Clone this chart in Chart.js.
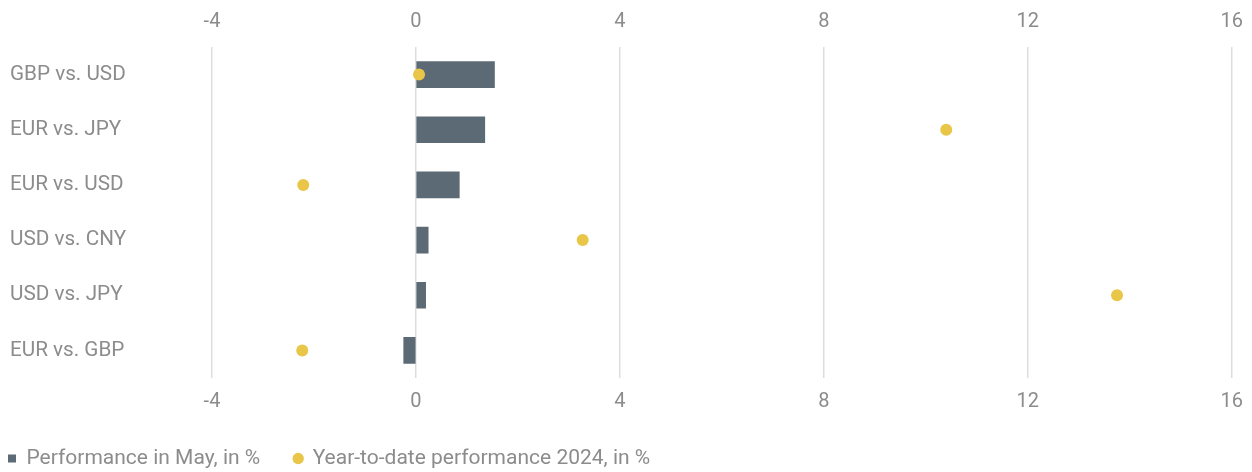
<!DOCTYPE html>
<html>
<head>
<meta charset="utf-8">
<title>Currency performance</title>
<script src="https://cdn.jsdelivr.net/npm/chart.js@4/dist/chart.umd.min.js"></script>
<style>
  html, body { margin: 0; padding: 0; background: #ffffff; }
  #wrap { width: 1252px; height: 472px; position: relative; }
</style>
</head>
<body>
<div id="wrap"><canvas id="chart"></canvas></div>
<script>
// Currency pairs, top to bottom
const categories = ['GBP vs. USD', 'EUR vs. JPY', 'EUR vs. USD', 'USD vs. CNY', 'USD vs. JPY', 'EUR vs. GBP'];
// Performance in May, in %
const mayPerformance = [1.54, 1.35, 0.85, 0.24, 0.19, -0.24];
// Year-to-date performance 2024, in %
const ytdPerformance = [0.06, 10.40, -2.21, 3.27, 13.75, -2.23];
// Value axis
const axisMin = -4;
const axisMax = 16;
const axisStep = 4;

const seriesNames = ['Performance in May, in %', 'Year-to-date performance 2024, in %'];

const BAR_COLOR = '#5b6a74';
const DOT_COLOR = '#e9c548';
const TEXT_COLOR = '#8c8c8c';
const GRID_COLOR = '#dddddd';
const FAMILY = 'Roboto, "Liberation Sans", sans-serif';
const TOP_TICK_FONT = { family: FAMILY, size: 20, lineHeight: 1.6 };
const BOTTOM_TICK_FONT = { family: FAMILY, size: 20, lineHeight: 1.5 };
const LABEL_FONT = { family: FAMILY, size: 20.7 };
const LEGEND_FONT = { family: FAMILY, size: 21 };

// Nudges the legend row so the first marker sits near the left edge
// while keeping wide spacing between the two entries.
const legendShift = {
  id: 'legendShift',
  afterLayout(chart) {
    if (chart.legend) {
      chart.legend.left -= 36;
      chart.legend.top += 7;
    }
  }
};

new Chart(document.getElementById('chart'), {
  type: 'bar',
  data: {
    labels: categories,
    datasets: [
      {
        type: 'line',
        label: seriesNames[1],
        data: ytdPerformance,
        showLine: false,
        pointRadius: 6,
        pointHoverRadius: 6,
        pointBackgroundColor: DOT_COLOR,
        pointBorderWidth: 0,
        borderColor: DOT_COLOR,
        backgroundColor: DOT_COLOR,
        pointStyle: 'circle',
        xAxisID: 'x',
        order: 0
      },
      {
        label: seriesNames[0],
        data: mayPerformance,
        backgroundColor: BAR_COLOR,
        borderWidth: 0,
        barThickness: 26,
        pointStyle: 'rect',
        xAxisID: 'x',
        order: 1
      }
    ]
  },
  options: {
    indexAxis: 'y',
    responsive: true,
    maintainAspectRatio: false,
    animation: false,
    devicePixelRatio: 1,
    layout: { padding: { top: 0, left: 10, right: 20, bottom: 0 } },
    plugins: {
      tooltip: { enabled: false },
      legend: {
        position: 'bottom',
        align: 'start',
        reverse: true,
        labels: {
          usePointStyle: true,
          boxWidth: 8,
          boxHeight: 8,
          padding: 34,
          color: TEXT_COLOR,
          font: LEGEND_FONT
        }
      }
    },
    scales: {
      x: {
        position: 'bottom',
        min: axisMin,
        max: axisMax,
        ticks: { stepSize: axisStep, color: TEXT_COLOR, font: BOTTOM_TICK_FONT, padding: 9 },
        grid: { color: GRID_COLOR, lineWidth: 1.5, drawTicks: false },
        border: { display: false },
        afterFit(scale) { scale.height = 29; }
      },
      x2: {
        position: 'top',
        type: 'linear',
        min: axisMin,
        max: axisMax,
        ticks: { stepSize: axisStep, color: TEXT_COLOR, font: TOP_TICK_FONT, padding: 9 },
        grid: { display: false, drawTicks: false },
        border: { display: false },
        afterFit(scale) { scale.height = 47; }
      },
      y: {
        position: 'left',
        ticks: { color: TEXT_COLOR, font: LABEL_FONT, crossAlign: 'far', padding: 0 },
        grid: { display: false, drawTicks: false },
        border: { display: false },
        afterFit(scale) { scale.width = 202; }
      }
    }
  },
  plugins: [legendShift]
});
</script>
</body>
</html>
